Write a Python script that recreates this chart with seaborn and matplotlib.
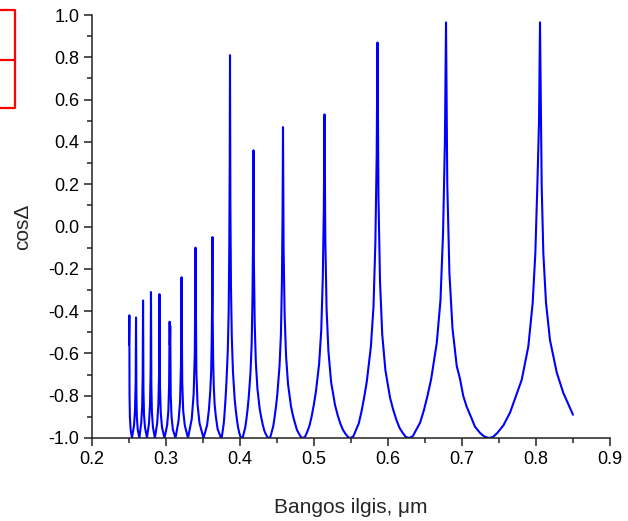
import matplotlib
matplotlib.use("Agg")
import matplotlib.pyplot as plt
import seaborn as sns
import pandas as pd
from matplotlib.lines import Line2D
from matplotlib.ticker import MultipleLocator

# wavelength (um) and cos(Delta)
wavelength = [
    0.2500, 0.2505, 0.2507, 0.2512, 0.2522, 0.2540,
    0.2568, 0.2581, 0.2590, 0.2595, 0.2600, 0.2606, 0.2618, 0.2640,
    0.2665, 0.2678, 0.2685, 0.2690, 0.2695, 0.2703, 0.2716, 0.2743,
    0.2770, 0.2784, 0.2792, 0.2797, 0.2802, 0.2810, 0.2824, 0.2850,
    0.2881, 0.2897, 0.2906, 0.2912, 0.2919, 0.2929, 0.2946, 0.2980,
    0.3015, 0.3032, 0.3042, 0.3049, 0.3053, 0.3057, 0.3064, 0.3075, 0.3093, 0.3128,
    0.3169, 0.3190, 0.3202, 0.3210, 0.3219, 0.3232, 0.3254, 0.3297,
    0.3348, 0.3374, 0.3389, 0.3399, 0.3410, 0.3426, 0.3453, 0.3507,
    0.3555, 0.3580, 0.3598, 0.3610, 0.3618, 0.3624, 0.3628,
    0.3631, 0.3637, 0.3645, 0.3657, 0.3674, 0.3697, 0.3743,
    0.3755, 0.3767, 0.3780, 0.3792, 0.3804, 0.3816, 0.3835, 0.3847, 0.3855, 0.3861, 0.3865,
    0.3870, 0.3878, 0.3889, 0.3905, 0.3928, 0.3944, 0.3960, 0.3976, 0.3991, 0.4007, 0.4023,
    0.4039, 0.4055, 0.4071, 0.4087, 0.4103, 0.4118, 0.4142, 0.4158, 0.4169, 0.4177, 0.4182,
    0.4188, 0.4199, 0.4214, 0.4235, 0.4266, 0.4287, 0.4308, 0.4329, 0.4350, 0.4371, 0.4392,
    0.4411, 0.4430, 0.4449, 0.4468, 0.4487, 0.4505, 0.4534, 0.4553, 0.4566, 0.4575, 0.4581,
    0.4589, 0.4603, 0.4622, 0.4649, 0.4689, 0.4716, 0.4743, 0.4770, 0.4797, 0.4824, 0.4851,
    0.4880, 0.4909, 0.4938, 0.4967, 0.4997, 0.5026, 0.5069, 0.5098, 0.5119, 0.5133, 0.5142,
    0.5153, 0.5170, 0.5195, 0.5231, 0.5284, 0.5319, 0.5354, 0.5390, 0.5425, 0.5461, 0.5496,
    0.5532, 0.5568, 0.5605, 0.5641, 0.5677, 0.5713, 0.5768, 0.5804, 0.5829, 0.5847, 0.5858,
    0.5871, 0.5892, 0.5922, 0.5965, 0.6028, 0.6071, 0.6114, 0.6156, 0.6199, 0.6241, 0.6284,
    0.6334, 0.6384, 0.6434, 0.6484, 0.6534, 0.6584, 0.6659, 0.6709, 0.6744, 0.6769, 0.6784,
    0.6801, 0.6830, 0.6871, 0.6929, 0.6973, 0.7016, 0.7063, 0.7133, 0.7176, 0.7249, 0.7307, 0.7365,
    0.7420, 0.7480, 0.7560, 0.7649, 0.7720, 0.7807, 0.7896, 0.7955, 0.7991, 0.8018, 0.8041, 0.8054,
    0.8077, 0.8099, 0.8135, 0.8189, 0.8280, 0.8369, 0.8500,
]
cos_delta = [
    -0.56, -0.42, -0.79, -0.90, -0.96, -1.00,
    -0.94, -0.87, -0.74, -0.43, -0.80, -0.90, -0.96, -1.00,
    -0.93, -0.85, -0.71, -0.35, -0.77, -0.89, -0.95, -1.00,
    -0.93, -0.84, -0.69, -0.31, -0.75, -0.88, -0.95, -1.00,
    -0.93, -0.84, -0.70, -0.32, -0.76, -0.88, -0.95, -1.00,
    -0.94, -0.87, -0.75, -0.45, -0.56, -0.47, -0.80, -0.90, -0.96, -1.00,
    -0.92, -0.83, -0.66, -0.24, -0.73, -0.87, -0.94, -1.00,
    -0.91, -0.79, -0.60, -0.10, -0.68, -0.84, -0.93, -1.00,
    -0.94, -0.866, -0.78, -0.69, -0.53, -0.33, -0.05,
    -0.42, -0.63, -0.75, -0.84, -0.90, -0.957, -1.00,
    -0.993, -0.963, -0.933, -0.88, -0.816, -0.742, -0.586, -0.402, -0.108, 0.288, 0.81,
    0.104, -0.282, -0.522, -0.687, -0.816, -0.871, -0.917, -0.954, -0.977, -0.995, -1.00,
    -0.994, -0.972, -0.95, -0.91, -0.862, -0.807, -0.689, -0.551, -0.331, -0.034, 0.36,
    -0.172, -0.462, -0.641, -0.765, -0.862, -0.903, -0.938, -0.966, -0.983, -0.996, -1.00,
    -0.994, -0.97, -0.945, -0.90, -0.85, -0.79, -0.66, -0.51, -0.27, 0.05, 0.47,
    -0.10, -0.415, -0.61, -0.745, -0.85, -0.895, -0.93, -0.962, -0.98, -0.996, -1.00,
    -0.994, -0.97, -0.943, -0.90, -0.844, -0.78, -0.65, -0.49, -0.24, 0.09, 0.53,
    -0.064, -0.39, -0.59, -0.735, -0.844, -0.891, -0.93, -0.961, -0.98, -0.996, -1.00,
    -0.992, -0.962, -0.931, -0.876, -0.81, -0.734, -0.57, -0.38, -0.08, 0.33, 0.87,
    0.14, -0.26, -0.51, -0.68, -0.81, -0.867, -0.915, -0.952, -0.976, -0.995, -1.00,
    -0.992, -0.96, -0.927, -0.87, -0.80, -0.72, -0.55, -0.35, -0.03, 0.40, 0.965,
    0.20, -0.22, -0.48, -0.66, -0.72, -0.80, -0.852, -0.91, -0.947, -0.978, -0.994, -1.00,
    -0.995, -0.975, -0.94, -0.88, -0.81, -0.725, -0.568, -0.362, -0.126, 0.19, 0.50, 0.965,
    0.19, -0.125, -0.36, -0.537, -0.69, -0.787, -0.89,
]

x_ticks = [0.2, 0.3, 0.4, 0.5, 0.6, 0.7, 0.8, 0.9]
y_ticks = [-1.0, -0.8, -0.6, -0.4, -0.2, 0.0, 0.2, 0.4, 0.6, 0.8, 1.0]

df = pd.DataFrame({"wl": wavelength, "cd": cos_delta})

sns.set_style("ticks")
plt.rcParams["font.family"] = ["Liberation Sans", "DejaVu Sans"]

fig = plt.figure(figsize=(6.28, 5.21), dpi=100)
ax = fig.add_axes([92 / 628, 1 - 438 / 521, (610 - 92) / 628, (438 - 15) / 521])

sns.lineplot(data=df, x="wl", y="cd", ax=ax, color="#0000FF", linewidth=1.5,
             sort=False, estimator=None)

ax.set_xlim(0.2, 0.9)
ax.set_ylim(-1.0, 1.0)
ax.set_xticks(x_ticks)
ax.set_yticks(y_ticks)
ax.set_xticklabels([f"{v:.1f}" for v in x_ticks])
ax.set_yticklabels([f"{v:.1f}" for v in y_ticks])
ax.xaxis.set_minor_locator(MultipleLocator(0.05))
ax.yaxis.set_minor_locator(MultipleLocator(0.1))
ax.tick_params(which="major", direction="out", length=6, width=1.1,
               labelsize=13, color="#222222", labelcolor="black", pad=3)
ax.tick_params(which="minor", direction="out", length=3.5, width=1.1, color="#222222")
for side in ["top", "right"]:
    ax.spines[side].set_visible(False)
for side in ["left", "bottom"]:
    ax.spines[side].set_linewidth(1.1)
    ax.spines[side].set_color("#222222")

ax.set_xlabel("Bangos ilgis, \u03bcm", fontsize=15, labelpad=22)
ax.set_ylabel("cos\u0394", fontsize=15, labelpad=12)

# clipped red legend frame at the top-left corner
def fig_line(xs, ys):
    fig.add_artist(Line2D([x / 628 for x in xs], [1 - y / 521 for y in ys],
                          color="red", linewidth=1.6, transform=fig.transFigure))

fig_line([0, 15, 15, 0], [10, 10, 108, 108])
fig_line([0, 15], [60, 60])

fig.savefig("out.png", dpi=100)
